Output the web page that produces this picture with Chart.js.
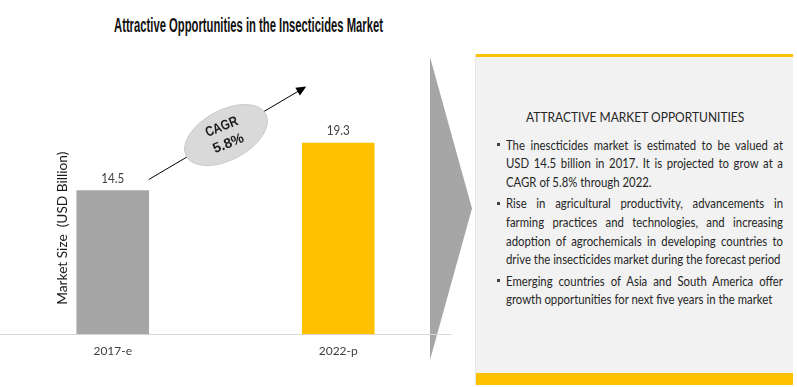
<!DOCTYPE html>
<html>
<head>
<meta charset="utf-8">
<script src="https://cdn.jsdelivr.net/npm/chart.js@4.4.1/dist/chart.umd.min.js"></script>
<style>
  html, body { margin: 0; padding: 0; background: #fff; }
  #wrap { position: relative; width: 797px; height: 387px; overflow: hidden; font-family: Lato, "Open Sans", sans-serif; }
  #title { position: absolute; top: 14px; left: 0; white-space: nowrap; font: bold 20px "Liberation Sans Narrow", "Liberation Sans", Arial, sans-serif; color: #111; transform-origin: 0 0; line-height: 22px; }
  #tri { position: absolute; left: 430px; top: 57px; width: 42px; height: 303px; background: #a6a6a6; clip-path: polygon(0 0, 100% 50%, 0 100%); }
  #chartBox { position: absolute; left: 0; top: 0; width: 797px; height: 387px; }
  #panel { position: absolute; left: 475px; top: 54px; width: 318px; height: 331px; background: #f2f2f2; border-left: 1px solid #e4e4e4; box-sizing: border-box; }
  #panel .barTop { position: absolute; left: 0; right: 0; top: 0; height: 3px; background: #ffc000; }
  #panel .barBot { position: absolute; left: 0; right: 0; bottom: 0; height: 12px; background: #ffc000; }
  #heading { position: absolute; top: 54px; left: 0; white-space: nowrap; font-size: 13.5px; line-height: 18px; color: #262626; transform-origin: 0 0; }
  #points { position: absolute; left: 30px; top: 81.6px; color: #262626; font-size: 13.5px; line-height: 18.7px; }
  .pt { position: relative; margin-bottom: 2.5px; }
  .dot { position: absolute; left: -9px; top: 7.5px; width: 3px; height: 3px; background: #404040; }
  .txt { transform-origin: 0 0; }
  .ln { text-align: justify; text-align-last: justify; }
  .ln.last { text-align-last: left; }
</style>
</head>
<body>
<div id="wrap">
  <div id="title">Attractive Opportunities in the Insecticides Market</div>
  <div id="tri"></div>
  <div id="panel">
    <div class="barTop"></div>
    <div id="heading"></div>
    <div id="points"></div>
    <div class="barBot"></div>
  </div>
  <div id="chartBox"><canvas id="chart"></canvas></div>
</div>
<script>
const categories = ['2017-e', '2022-p'];
const marketSize = [14.5, 19.3];
const barColors = ['#a6a6a6', '#ffc000'];
const yMax = 25;
const axisTitle = 'Market Size  (USD Billion)';
const cagrText = ['CAGR', '5.8%'];
const cagrLevel = 20.1;   // where the CAGR bubble sits on the value axis
const arrowEnd = 25;      // arrow tip on the value axis

const panelHeading = 'ATTRACTIVE MARKET OPPORTUNITIES';
const panelPoints = [
  ['The inescticides market is estimated to be valued at',
   'USD 14.5 billion in 2017. It is projected to grow at a',
   'CAGR of 5.8% through 2022.'],
  ['Rise in agricultural productivity, advancements in',
   'farming practices and technologies, and increasing',
   'adoption of agrochemicals in developing countries to',
   'drive the insecticides market during the forecast period'],
  ['Emerging countries of Asia and South America offer',
   'growth opportunities for next five years in the market']
];

// title squeezed to the width of the original
const title = document.getElementById('title');
const tw = title.offsetWidth;
title.style.transform = `scaleX(${269 / tw})`;
title.style.left = (248 - 269 / 2) + 'px';

// right hand panel
const measure = document.createElement('canvas').getContext('2d');
const heading = document.getElementById('heading');
heading.textContent = panelHeading;
const hw = heading.offsetWidth;
heading.style.transform = `scaleX(${218 / hw})`;
heading.style.left = (159 - 218 / 2) + 'px';

measure.font = '13.5px Lato';
const widest = Math.max(...panelPoints.flat().map(t => measure.measureText(t).width)) + 3;
const sx = 277 / widest;
const points = document.getElementById('points');
panelPoints.forEach(lines => {
  const p = document.createElement('div');
  p.className = 'pt';
  const dot = document.createElement('span');
  dot.className = 'dot';
  p.appendChild(dot);
  const txt = document.createElement('div');
  txt.className = 'txt';
  txt.style.width = widest + 'px';
  txt.style.transform = `scaleX(${sx})`;
  lines.forEach((t, i) => {
    const d = document.createElement('div');
    d.className = i === lines.length - 1 ? 'ln last' : 'ln';
    d.textContent = t;
    txt.appendChild(d);
  });
  p.appendChild(txt);
  points.appendChild(p);
});

const fitText = (ctx, text, x, y, w) => {
  const m = ctx.measureText(text).width;
  ctx.save();
  ctx.translate(x, y);
  ctx.scale(w / m, 1);
  ctx.fillText(text, 0, 0);
  ctx.restore();
};

const overlay = {
  id: 'overlay',
  afterDatasetsDraw(chart) {
    const { ctx, chartArea, scales } = chart;
    const bars = chart.getDatasetMeta(0).data;
    ctx.save();
    ctx.textAlign = 'center';
    ctx.textBaseline = 'middle';

    // values on top of the bars
    ctx.fillStyle = '#404040';
    ctx.font = '13px Lato';
    bars.forEach((b, i) => fitText(ctx, String(marketSize[i]), b.x, b.y - 12, 23));

    // value axis title
    ctx.fillStyle = '#1a1a1a';
    ctx.font = '14px Lato';
    ctx.save();
    ctx.translate(chartArea.left + 62, chartArea.bottom - 106);
    ctx.rotate(-Math.PI / 2);
    fitText(ctx, axisTitle, 0, 0, 153);
    ctx.restore();

    // growth arrow
    const x0 = bars[0].x + bars[0].width / 2;
    const y0 = bars[0].y - 11;
    const x1 = bars[1].x - bars[1].width / 2 + 4;
    const y1 = scales.y.getPixelForValue(arrowEnd);
    const ang = Math.atan2(y1 - y0, x1 - x0);
    ctx.strokeStyle = '#000';
    ctx.lineWidth = 1;
    ctx.beginPath();
    ctx.moveTo(x0, y0);
    ctx.lineTo(x1 - 8 * Math.cos(ang), y1 - 8 * Math.sin(ang));
    ctx.stroke();
    ctx.fillStyle = '#000';
    ctx.save();
    ctx.translate(x1, y1);
    ctx.rotate(ang);
    ctx.beginPath();
    ctx.moveTo(0, 0);
    ctx.lineTo(-10, -4.5);
    ctx.lineTo(-10, 4.5);
    ctx.closePath();
    ctx.fill();
    ctx.restore();

    // CAGR bubble
    const cx = (bars[0].x + bars[1].x) / 2 + 0.5;
    const cy = scales.y.getPixelForValue(cagrLevel);
    ctx.fillStyle = '#d9d9d9';
    ctx.strokeStyle = '#c8c8c8';
    ctx.beginPath();
    ctx.ellipse(cx, cy, 45, 25, -28 * Math.PI / 180, 0, Math.PI * 2);
    ctx.fill();
    ctx.stroke();
    ctx.save();
    ctx.translate(cx, cy);
    ctx.rotate(-22 * Math.PI / 180);
    ctx.fillStyle = '#1a1a1a';
    ctx.font = 'bold 14px "Liberation Sans Narrow", "Liberation Sans", Arial, sans-serif';
    fitText(ctx, cagrText[0], -1, -9, 34);
    fitText(ctx, cagrText[1], -1, 9, 32);
    ctx.restore();

    ctx.restore();
  }
};

new Chart(document.getElementById('chart'), {
  type: 'bar',
  data: {
    labels: categories,
    datasets: [{
      data: marketSize,
      backgroundColor: barColors,
      barThickness: 72
    }]
  },
  options: {
    responsive: true,
    maintainAspectRatio: false,
    animation: false,
    layout: { padding: { left: 0, right: 346, top: 86.5, bottom: 18.4 } },
    plugins: { legend: { display: false }, tooltip: { enabled: false } },
    scales: {
      x: {
        grid: { display: false, drawTicks: false },
        border: { display: true, color: '#d9d9d9', width: 1 },
        ticks: { color: '#404040', font: { family: 'Lato', size: 12 }, padding: 10 }
      },
      y: { display: false, min: 0, max: yMax }
    }
  },
  plugins: [overlay]
});
</script>
</body>
</html>
